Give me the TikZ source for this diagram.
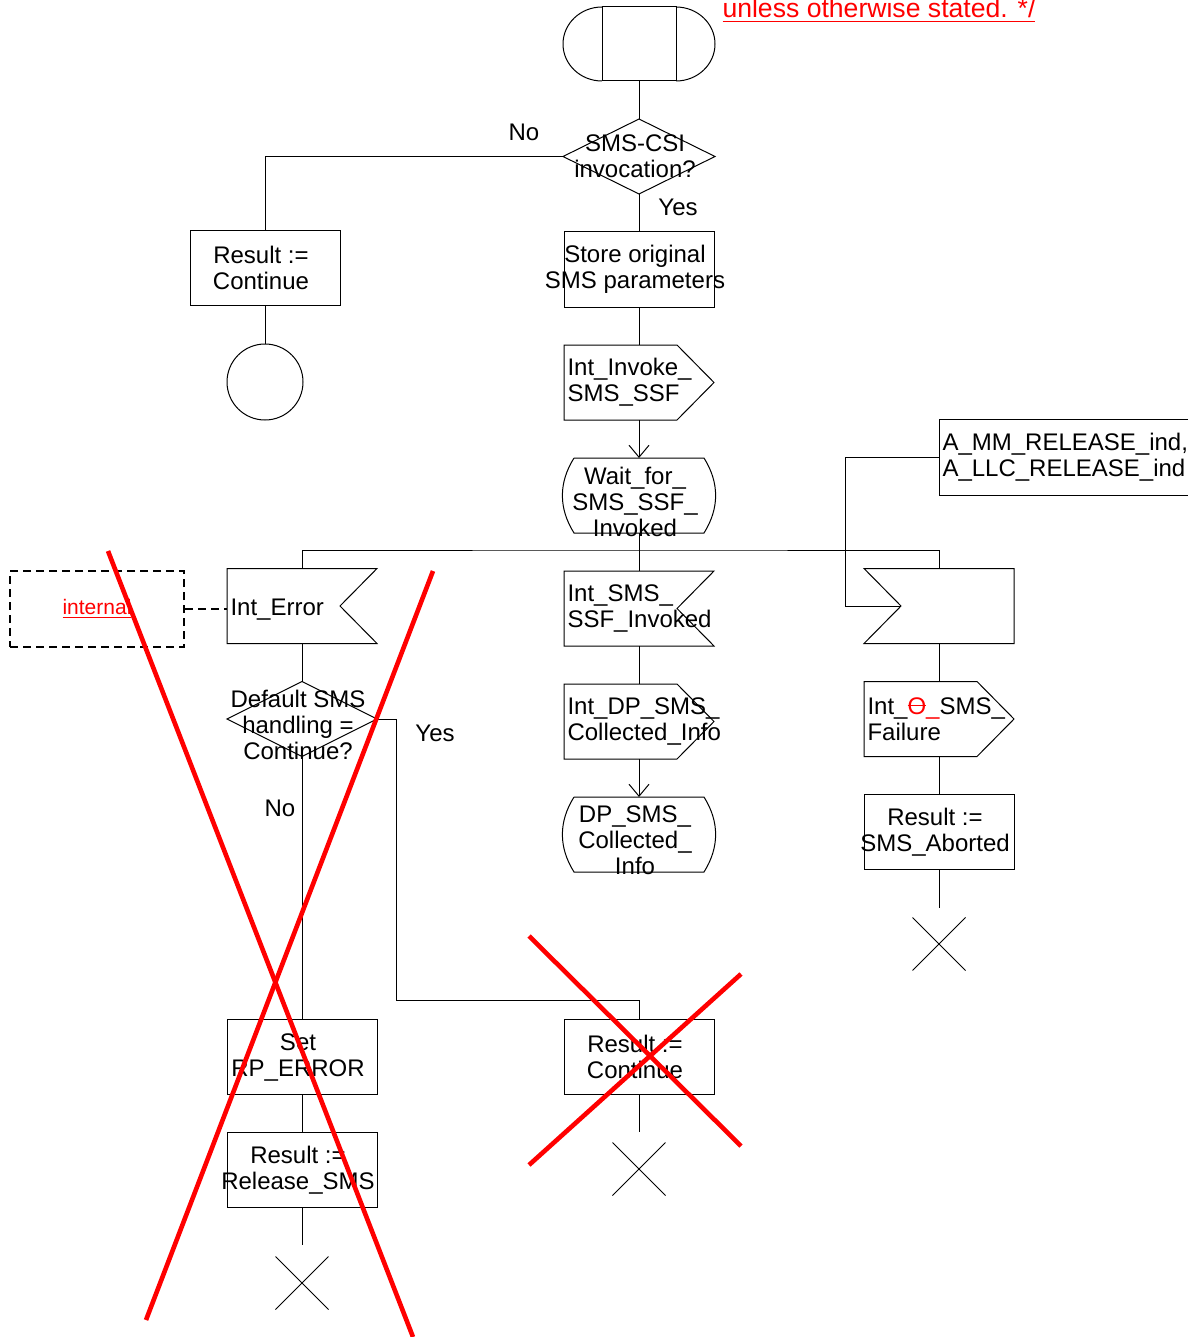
\documentclass[tikz,border=0pt]{standalone}
\usepackage{fontspec}
\setmainfont{Liberation Sans}
\usetikzlibrary{arrows.meta,positioning,calc,shapes.geometric,shapes.misc}
% SDL symbol outlines drawn round a fixed-size node
\newcommand{\sigout}[1]{\draw (#1.north west) -- ($(#1.north east)+(-37,0)$) -- (#1.east)
  -- ($(#1.south east)+(-37,0)$) -- (#1.south west) -- cycle;}
\newcommand{\sigin}[1]{\draw (#1.north west) -- (#1.north east) -- ($(#1.east)+(-37,0)$)
  -- (#1.south east) -- (#1.south west) -- cycle;}
\newcommand{\siginleft}[1]{\draw (#1.north west) -- (#1.north east) -- (#1.south east)
  -- (#1.south west) -- ($(#1.west)+(37,0)$) -- cycle;}
\newcommand{\stateoutline}[1]{\draw ($(#1.north west)+(11,0)$) -- ($(#1.north east)+(-11,0)$)
  to[bend left=32] ($(#1.south east)+(-11,0)$) -- ($(#1.south west)+(11,0)$)
  to[bend left=32] ($(#1.north west)+(11,0)$);}
\newcommand{\struck}[1]{\setbox0\hbox{#1}\rlap{\rule[0.33em]{\wd0}{0.6pt}}\box0}

\begin{document}
\begin{tikzpicture}[
  x=0.5pt, y=-0.5pt,
  font=\fontsize{12}{13}\selectfont,
  line width=0.5pt,
  node distance=19pt,
  sym/.style={rectangle,inner sep=0pt,outer sep=0pt,minimum width=75pt,minimum height=37.5pt},
  task/.style={sym,draw},
  cond/.style={sym,diamond,draw},
  state/.style={sym,minimum width=76pt},
  every label/.style={align=center,inner sep=0pt},
  txt/.style={label={[xshift=-2pt]center:{#1}}},
  txtlow/.style={label={[xshift=-2pt,yshift=-3pt]center:{#1}}},
  ltxt/.style={label={[anchor=west,align=left,inner sep=1.5pt]west:{#1}}},
  sink/.style={cross out,draw,minimum size=26.5pt,inner sep=0pt,outer sep=0pt},
  openarr/.style={-{Straight Barb[length=6pt,width=10pt]}},
  comment/.style={draw,line width=1pt,dash pattern=on 4pt off 2.5pt},
  cancel/.style={draw=red,line width=2.3pt}
]
\useasboundingbox (0,0) rectangle (1200,1337);

% main column
\node[sym,draw,minimum width=37pt,minimum height=37pt] (start) at (639,44) {};
\draw (start.north west) arc[start angle=90,end angle=270,x radius=19.5pt,y radius=18.5pt];
\draw (start.north east) arc[start angle=90,end angle=-90,x radius=19.5pt,y radius=18.5pt];
\node[cond,minimum width=76pt,txt={SMS-CSI\\invocation?},below=of start] (csi) {};
\node[task,txt={Store original\\SMS parameters},below=of csi] (store) {};
\node[sym,ltxt={Int\_Invoke\_\\SMS\_SSF},below=of store] (invoke) {};
\sigout{invoke}
\node[state,txtlow={Wait\_for\_\\SMS\_SSF\_\\Invoked},below=of invoke] (waitssf) {};
\stateoutline{waitssf}
\node[sym,ltxt={Int\_SMS\_\\SSF\_Invoked},below=of waitssf] (ssfinv) {};
\sigin{ssfinv}
\node[sym,ltxt={Int\_DP\_SMS\_\\Collected\_Info},below=of ssfinv] (dpinfo) {};
\sigout{dpinfo}
\node[state,txtlow={DP\_SMS\_\\Collected\_\\Info},below=of dpinfo] (dpstate) {};
\stateoutline{dpstate}
\node[task,txt={Result :=\\Continue}] (rescont) at (639,1057) {};
\node[sink] (stopB) at (639,1169) {};

% left branches
\node[task,txt={Result :=\\Continue}] (cont) at (265,268) {};
\node[circle,draw,minimum size=38pt,inner sep=0pt,below=of cont] (conn) {};
\node[sym,label={[anchor=west,inner sep=1.5pt,yshift=-2pt]west:{Int\_Error}}] (interr) at (302,606) {};
\sigin{interr}
\node[comment,minimum width=87pt,minimum height=38pt,text=red,
      font=\fontsize{10.5}{12}\selectfont] (intl) at (97,609) {\underline{internal}};
\node[cond,txtlow={Default SMS\\handling =\\Continue?},below=of interr] (dflt) {};
\node[task,txt={Set\\RP\_ERROR}] (setrp) at (302,1057) {};
\node[task,txt={Result :=\\Release\_SMS},below=of setrp] (relsms) {};
\node[sink] (stopA) at (302,1283) {};

% right branch
\node[sym] (relind) at (939,606) {};
\siginleft{relind}
\node[sym,minimum width=124.5pt,minimum height=38pt,
      ltxt={A\_MM\_RELEASE\_ind,\\A\_LLC\_RELEASE\_ind}] (ext) at (1063.5,457) {};
\draw (ext.north east) -- (ext.north west) -- (ext.south west) -- (ext.south east);
\node[sym,ltxt={Int\_\textcolor{red}{\struck{O}\_}SMS\_\\Failure},below=of relind] (ofail) {};
\sigout{ofail}
\node[task,txt={Result :=\\SMS\_Aborted},below=of ofail] (abort) {};
\node[sink] (stopC) at (939,944) {};

% branch labels
\node (csino) at (524,132) {No};
\node (csiyes) at (678,207) {Yes};
\node (dfltyes) at (435,733) {Yes};
\node (dfltno) at (280,808) {No};

% flow lines
\coordinate (fork) at (639,550);
\coordinate (yesbend) at (396,1000);
\coordinate (extbend) at (845,457);
\coordinate (relnotch) at ($(relind.west)+(37,0)$);
\draw (start.south) -- (csi.north);
\draw (csi.west) -| (cont.north);
\draw (csi.south) -- (store.north);
\draw (cont.south) -- (conn.north);
\draw (store.south) -- (invoke.north);
\draw[openarr] (invoke.south) -- (waitssf.north);
\draw (waitssf.south) -- (fork);
\draw (interr.north) |- (fork) -| (relind.north);
\draw (fork) -- (ssfinv.north);
\draw[comment] (intl.east) -- (intl.east -| interr.west);
\draw (interr.south) -- (dflt.north);
\draw (dflt.east) -| (yesbend) -| (rescont.north);
\draw (dflt.south) -- (setrp.north);
\draw (setrp.south) -- (relsms.north);
\draw[shorten >=6pt] (relsms.south) -- (stopA.north);
\draw (ssfinv.south) -- (dpinfo.north);
\draw[openarr] (dpinfo.south) -- (dpstate.north);
\draw[shorten >=5.5pt] (rescont.south) -- (stopB.north);
\draw (ext.west) -- (extbend) |- (relnotch);
\draw (relind.south) -- (ofail.north);
\draw (ofail.south) -- (abort.north);
\draw[shorten >=5pt] (abort.south) -- (stopC.north);

% red edits
\node[anchor=base west,inner sep=0pt,text=red,font=\fontsize{13.3}{15}\selectfont] (note)
  at (722,18) {\underline{unless otherwise stated. */}};
\draw[cancel] (108,551) -- (413,1337);
\draw[cancel] (433,571) -- (146,1320);
\draw[cancel] (529,936) -- (741,1146);
\draw[cancel] (741,974) -- (529,1165);
\end{tikzpicture}
\end{document}
